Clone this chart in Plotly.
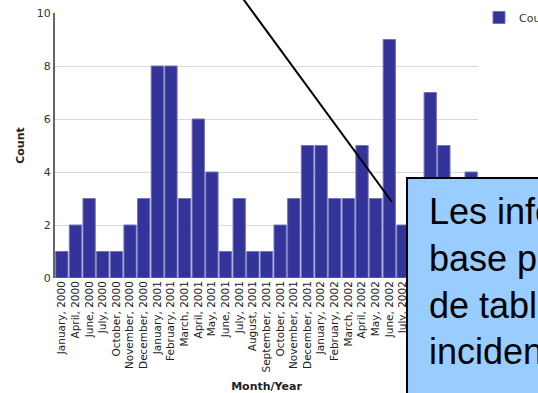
import plotly.graph_objects as go

# ---- data ----
months = [
    "January, 2000", "April, 2000", "June, 2000", "July, 2000", "October, 2000",
    "November, 2000", "December, 2000", "January, 2001", "February, 2001",
    "March, 2001", "April, 2001", "May, 2001", "June, 2001", "July, 2001",
    "August, 2001", "September, 2001", "October, 2001", "November, 2001",
    "December, 2001", "January, 2002", "February, 2002", "March, 2002",
    "April, 2002", "May, 2002", "June, 2002", "July, 2002", "August, 2002",
    "September, 2002", "October, 2002", "November, 2002", "December, 2002",
]
counts = [1, 2, 3, 1, 1, 2, 3, 8, 8, 3, 6, 4, 1, 3, 1, 1, 2, 3, 5, 5,
          3, 3, 5, 3, 9, 2, 3, 7, 5, 2, 4]
y_ticks = [0, 2, 4, 6, 8, 10]
series_name = "Count"
note_text = "Les informations de<br>base proviennent<br>de tables d'<br>incidents"

FONT = "DejaVu Sans"
W, H = 538, 393
ML, MR, MT, MB = 55, 60, 13, 115
PW = W - ML - MR
PH = H - MT - MB


def px_x(p):
    return (p - ML) / PW


def px_y(p):
    return (H - MB - p) / PH


fig = go.Figure()
fig.add_trace(go.Bar(
    x=months, y=counts, name=series_name,
    marker=dict(color="#333399", line=dict(color="#7373b9", width=1)),
    showlegend=True,
))

fig.update_layout(
    width=W, height=H,
    margin=dict(l=ML, r=MR, t=MT, b=MB, autoexpand=False),
    paper_bgcolor="white", plot_bgcolor="white",
    bargap=0.1,
    font=dict(family=FONT, size=11, color="#333333"),
    showlegend=True,
    legend=dict(xref="container", yref="container",
                x=479 / W, xanchor="left", y=1 - 3 / H, yanchor="top",
                font=dict(family=FONT, size=11, color="#333333"),
                bgcolor="rgba(0,0,0,0)"),
    xaxis=dict(
        type="category", range=[-0.5, len(months) - 0.5],
        tickmode="array", tickvals=months, ticktext=months,
        tickangle=-90, tickfont=dict(family=FONT, size=10.5, color="#222222"),
        showgrid=False, showline=False, zeroline=False, ticks="",
        title=dict(text="<b>Month/Year</b>", font=dict(family=FONT, size=11, color="#222222"),
                   standoff=10),
        automargin=False,
    ),
    yaxis=dict(
        range=[0, 10], tickvals=y_ticks,
        tickfont=dict(family=FONT, size=11, color="#333333"),
        showgrid=True, gridcolor="#d9d9d9", gridwidth=1,
        showline=True, linecolor="#666666", linewidth=2,
        zeroline=False, ticks="",
        title=dict(text="<b>Count</b>", font=dict(family=FONT, size=11, color="#222222"),
                   standoff=10),
        automargin=False,
    ),
)

# diagonal pointer line
fig.add_shape(type="line", xref="paper", yref="paper",
              x0=px_x(236.6), y0=px_y(-10), x1=px_x(392), y1=px_y(202),
              line=dict(color="black", width=2), layer="above")

# callout box (extends past the window edge)
fig.add_shape(type="rect", xref="paper", yref="paper",
              x0=px_x(407), y0=px_y(178), x1=px_x(600), y1=px_y(460),
              fillcolor="#99ccff", line=dict(color="black", width=2), layer="above")

fig.add_annotation(xref="paper", yref="paper", x=px_x(427), y=px_y(189),
                   xanchor="left", yanchor="top", align="left", showarrow=False,
                   text=note_text,
                   font=dict(family="Liberation Sans", size=36, color="black"))

fig.write_html("out.html", config={"displayModeBar": False},
               post_script="document.body.style.margin='0';document.body.style.overflow='hidden';")
